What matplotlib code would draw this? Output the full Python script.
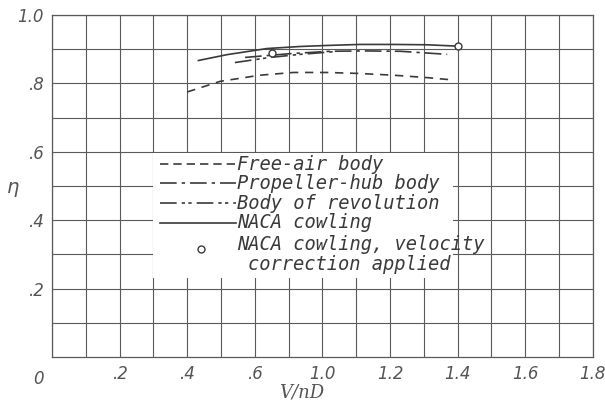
import numpy as np
import matplotlib
matplotlib.use('Agg')
import matplotlib.pyplot as plt

# nhan truc x dung nhu trong hinh goc (khong co .8)
xtick_vals = [0, 0.2, 0.4, 0.6, 1.0, 1.2, 1.4, 1.6, 1.8]
xtick_labels = ['', '.2', '.4', '.6', '1.0', '1.2', '1.4', '1.6', '1.8']
xgrid_vals = [0.1, 0.3, 0.5, 0.8, 1.1, 1.3, 1.5, 1.7]
ytick_vals = [0.2, 0.4, 0.6, 0.8, 1.0]
ytick_labels = ['.2', '.4', '.6', '.8', '1.0']

# du lieu doc tu hinh
free_air_v = [0.40, 0.497, 0.63, 0.828, 1.013, 1.111, 1.21, 1.309, 1.387]
free_air_eta = [0.775, 0.806, 0.824, 0.832, 0.832, 0.829, 0.824, 0.817, 0.81]

hub_v = [0.571, 0.808, 1.022, 1.126, 1.23, 1.369]
hub_eta = [0.876, 0.887, 0.894, 0.895, 0.894, 0.885]

rev_v = [0.541, 0.69, 0.868, 1.037]
rev_eta = [0.861, 0.876, 0.885, 0.893]

naca_v = [0.433, 0.517, 0.672, 0.868, 1.013, 1.111, 1.209, 1.309, 1.40]
naca_eta = [0.867, 0.884, 0.902, 0.908, 0.911, 0.914, 0.914, 0.913, 0.909]

corr_v = [0.70, 1.40]
corr_eta = [0.888, 0.908]

pos = np.arange(len(xtick_vals)) * 0.2


def fwd(v):
    return np.interp(v, xtick_vals, pos)


def inv(p):
    return np.interp(p, pos, xtick_vals)


ink = '#3a3a3a'
grid_c = '#5a5a5a'
lab_c = '#555555'
leg_font = dict(family='DejaVu Sans Mono', style='italic', fontsize=13.5, color=ink)

fig = plt.figure(figsize=(6.05, 4.01), dpi=100)
ax = fig.add_axes([0.086, 0.11, 0.894, 0.8525])
ax.set_xscale('function', functions=(fwd, inv))
ax.set_xlim(0, 1.8)
ax.set_ylim(0, 1.0)

ax.set_xticks(xtick_vals)
ax.set_xticklabels(xtick_labels)
ax.set_xticks(xgrid_vals, minor=True)
ax.set_yticks(ytick_vals)
ax.set_yticklabels(ytick_labels)
ax.set_yticks(np.arange(0.1, 1.0, 0.2), minor=True)
ax.grid(True, which='both', color=grid_c, lw=0.8)
ax.tick_params(which='both', length=0, labelsize=12, labelcolor=lab_c, pad=6)
for t in ax.get_xticklabels() + ax.get_yticklabels():
    t.set_fontstyle('italic')
for s in ax.spines.values():
    s.set_color(grid_c)
    s.set_linewidth(0.9)

ax.text(-0.025, -0.065, '0', transform=ax.transAxes, fontsize=12,
        color=lab_c, style='italic', ha='center', va='center')
ax.text(-0.072, 0.49, r'$\eta$', transform=ax.transAxes, fontsize=14,
        color=lab_c, ha='center', va='center')
ax.text(0.462, -0.105, 'V/nD', transform=ax.transAxes, fontsize=13,
        color=lab_c, family='DejaVu Serif', style='italic',
        ha='center', va='center')

lw = 1.2
ax.plot(free_air_v, free_air_eta, color=ink, lw=lw, dashes=(5, 4))
ax.plot(hub_v, hub_eta, color=ink, lw=lw, dashes=(10, 3, 2, 3))
ax.plot(rev_v, rev_eta, color=ink, lw=lw, dashes=(10, 3, 2, 2, 2, 3))
ax.plot(naca_v, naca_eta, color=ink, lw=lw)
ax.plot(corr_v, corr_eta, 'o', ms=5, mfc='white', mec=ink, mew=1.0)

# chu thich ve tay, nen trang che luoi
ax.add_patch(plt.Rectangle((0.187, 0.232), 0.555, 0.363, transform=ax.transAxes,
                           fc='white', ec='none', zorder=3))
rows = [('Free-air body', (5, 3)),
        ('Propeller-hub body', (10, 3, 2, 3)),
        ('Body of revolution', (10, 3, 2, 2, 2, 3)),
        ('NACA cowling', None)]
x0, x1, xt = 0.2, 0.34, 0.342
ys = [0.563, 0.508, 0.45, 0.392]
for (txt, d), y in zip(rows, ys):
    ax.text(xt, y, txt, transform=ax.transAxes, va='center', ha='left',
            zorder=4, **leg_font)
    if d is None:
        ax.plot([x0, x1], [y, y], transform=ax.transAxes, color=ink, lw=lw, zorder=5)
    else:
        ax.plot([x0, x1], [y, y], transform=ax.transAxes, color=ink, lw=lw,
                dashes=d, zorder=5)

ax.text(xt, 0.328, 'NACA cowling, velocity', transform=ax.transAxes,
        va='center', ha='left', zorder=4, **leg_font)
ax.text(xt + 0.02, 0.27, 'correction applied', transform=ax.transAxes,
        va='center', ha='left', zorder=4, **leg_font)
ax.plot([0.275], [0.315], 'o', transform=ax.transAxes, ms=5, mfc='white',
        mec=ink, mew=1.0, zorder=5)

fig.savefig('out.png', dpi=100, facecolor='white')
